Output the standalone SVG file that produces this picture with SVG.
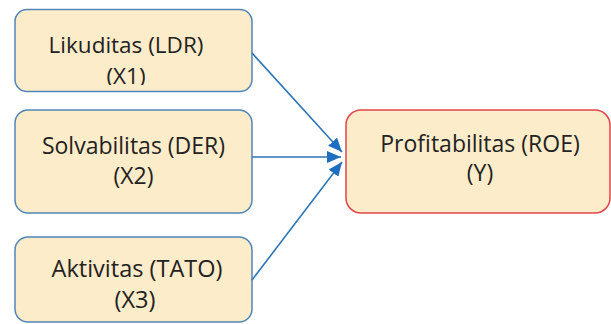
<svg xmlns="http://www.w3.org/2000/svg" width="611" height="324" viewBox="0 0 611 324">
<defs>
<style>
.box{fill:#fdecc9;stroke:#4f86b8;stroke-width:1.5}
.out{fill:#fdecc9;stroke:#e0454a;stroke-width:1.5}
.t{font-family:"Open Sans","Noto Sans",sans-serif;font-size:23px;fill:#222222;text-anchor:middle}
.c{stroke:#2e75b6;stroke-width:1.6;fill:none}
</style>
<marker id="ah" viewBox="0 0 14 12" refX="14" refY="6" markerWidth="14" markerHeight="12" markerUnits="userSpaceOnUse" orient="auto"><path d="M0,0 L14,6 L0,12 z" fill="#1f6fc0"/></marker>
<clipPath id="c1"><rect x="15" y="10" width="237" height="75"/></clipPath>
</defs>
<rect width="611" height="324" fill="#ffffff"/>
<g id="n1">
<rect class="box" x="15" y="9.5" width="237" height="82" rx="12"/>
<g clip-path="url(#c1)">
<text class="t" x="126" y="53" style="font-size:22.5px">Likuditas (LDR)</text>
<text class="t" x="126" y="84" style="font-size:22.5px">(X1)</text>
</g>
</g>
<g id="n2">
<rect class="box" x="15" y="110" width="237" height="103" rx="13"/>
<text class="t" x="133.5" y="154">Solvabilitas (DER)</text>
<text class="t" x="133.5" y="184">(X2)</text>
</g>
<g id="n3">
<rect class="box" x="15" y="237" width="237" height="85" rx="13"/>
<text class="t" x="137" y="277" style="font-size:23.5px">Aktivitas (TATO)</text>
<text class="t" x="135" y="308" style="font-size:23.5px">(X3)</text>
</g>
<g id="n4">
<rect class="out" x="346" y="110" width="264" height="103" rx="15"/>
<text class="t" x="480" y="152">Profitabilitas (ROE)</text>
<text class="t" x="480" y="181">(Y)</text>
</g>
<g id="connectors">
<line class="c" x1="252" y1="53" x2="342" y2="152" marker-end="url(#ah)"/>
<line class="c" x1="252" y1="157" x2="341" y2="157" marker-end="url(#ah)"/>
<line class="c" x1="252" y1="280" x2="342" y2="162" marker-end="url(#ah)"/>
</g>
</svg>
